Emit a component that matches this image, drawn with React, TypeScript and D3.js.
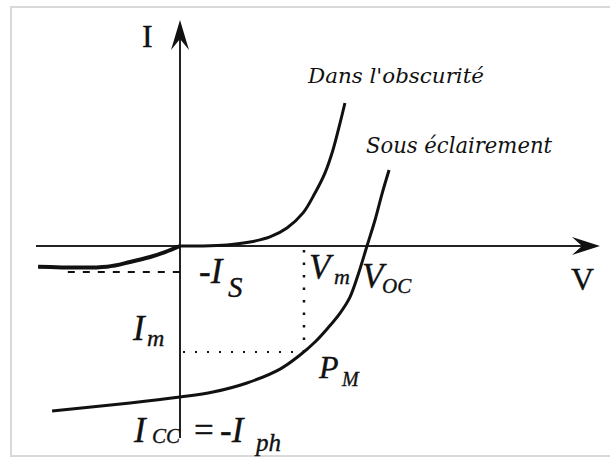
import React from "react";
import * as d3 from "d3";

// Current–voltage characteristics of a photovoltaic cell (normalised units:
// V in multiples of Voc, I in multiples of Iph).
const darkReverse: [number, number][] = [
  [-0.759, -0.137],
  [-0.39, -0.137],
  [-0.267, -0.106],
  [-0.16, -0.073],
  [-0.08, -0.04],
  [0, 0],
];
const darkForward: [number, number][] = [
  [0, 0],
  [0.123, 0.0],
  [0.251, 0.007],
  [0.374, 0.026],
  [0.481, 0.06],
  [0.572, 0.119],
  [0.658, 0.219],
  [0.722, 0.351],
  [0.775, 0.483],
  [0.818, 0.636],
  [0.856, 0.815],
  [0.882, 0.947],
];
const illuminated: [number, number][] = [
  [-0.684, -1.093],
  [-0.267, -1.04],
  [0, -1.0],
  [0.176, -0.967],
  [0.358, -0.907],
  [0.535, -0.815],
  [0.642, -0.722],
  [0.722, -0.636],
  [0.791, -0.543],
  [0.856, -0.444],
  [0.909, -0.338],
  [0.952, -0.192],
  [1.0, 0],
  [1.043, 0.172],
  [1.08, 0.344],
  [1.118, 0.503],
];

// Characteristic points
const VM = 0.663;
const IM = -0.702;
const IS = -0.172;

// Axis extents
const V_AXIS = [-0.77, 2.246];
const I_AXIS = [-1.272, 1.497];

const x = d3.scaleLinear().domain([0, 1]).range([180, 367]);
const y = d3.scaleLinear().domain([0, -1]).range([246, 397]);

const line = d3
  .line<[number, number]>()
  .x((d) => x(d[0]))
  .y((d) => y(d[1]))
  .curve(d3.curveCatmullRom.alpha(0.5));

const math = "'Liberation Serif', 'Times New Roman', serif";
const label = "'DejaVu Serif', serif";
const ink = "#111";

function T(props: {
  x: number;
  y: number;
  size: number;
  italic?: boolean;
  children: React.ReactNode;
}) {
  return (
    <text
      x={props.x}
      y={props.y}
      fontFamily={math}
      fontStyle={props.italic === false ? "normal" : "italic"}
      fontSize={props.size}
      fill={ink}
      stroke={ink}
      strokeWidth={0.35}
    >
      {props.children}
    </text>
  );
}

export default function App() {
  const x0 = x(0);
  const y0 = y(0);
  const xEnd = x(V_AXIS[1]);
  const yTop = y(I_AXIS[1]);

  // barbed arrowheads
  const hArrow = `M${xEnd},${y0} L${xEnd - 28},${y0 - 9} L${xEnd - 18},${y0} L${xEnd - 28},${y0 + 9} Z`;
  const vArrow = `M${x0},${yTop} L${x0 - 9},${yTop + 30} L${x0},${yTop + 19} L${x0 + 9},${yTop + 30} Z`;

  return (
    <div style={{ position: "absolute", left: 0, top: 0 }}>
      <svg width={610} height={460} style={{ display: "block", background: "#fff" }}>
        <rect x={11} y={7} width={610} height={449} fill="#fff" stroke="#d9d9d9" strokeWidth={2} />

        {/* axes */}
        <line x1={x(V_AXIS[0])} y1={y0} x2={xEnd - 18} y2={y0} stroke="#222" strokeWidth={2} />
        <path d={hArrow} fill="#111" />
        <line x1={x0} y1={y(I_AXIS[0])} x2={x0} y2={yTop + 19} stroke="#222" strokeWidth={2} />
        <path d={vArrow} fill="#111" />
        <T x={142} y={47} size={32} italic={false}>I</T>
        <T x={571} y={290} size={32} italic={false}>V</T>

        {/* guide lines */}
        <line x1={x(-0.6)} y1={y(IS)} x2={x0} y2={y(IS)} stroke={ink} strokeWidth={2} strokeDasharray="7 8" />
        <line x1={x(VM)} y1={y0 + 4} x2={x(VM)} y2={y(IM)} stroke={ink} strokeWidth={2.5} strokeDasharray="2.5 10" />
        <line x1={x0 + 3} y1={y(IM)} x2={x(VM) - 6} y2={y(IM)} stroke={ink} strokeWidth={2} strokeDasharray="2 10" />

        {/* curves */}
        <path d={line(darkReverse) ?? ""} fill="none" stroke={ink} strokeWidth={4} />
        <path d={line(darkForward) ?? ""} fill="none" stroke={ink} strokeWidth={3} />
        <path d={line(illuminated) ?? ""} fill="none" stroke={ink} strokeWidth={3} />

        {/* curve names */}
        <text x={308} y={83} fontFamily={label} fontStyle="italic" fontSize={21} fill={ink} textLength={176} lengthAdjust="spacingAndGlyphs">Dans l'obscurité</text>
        <text x={366} y={153} fontFamily={label} fontStyle="italic" fontSize={22} fill={ink} textLength={186} lengthAdjust="spacingAndGlyphs">Sous éclairement</text>

        {/* characteristic point labels */}
        <T x={199} y={283} size={35}>-I</T>
        <T x={228} y={297} size={29}>S</T>

        <T x={309} y={279} size={35}>V</T>
        <T x={334} y={284} size={22}>m</T>

        <T x={362} y={288} size={35}>V</T>
        <T x={382} y={293} size={21}>OC</T>

        <T x={133} y={340} size={35}>I</T>
        <T x={147} y={346} size={24}>m</T>

        <T x={319} y={378} size={32}>P</T>
        <T x={342} y={386} size={20}>M</T>

        <T x={134} y={442} size={35}>I</T>
        <T x={152} y={443} size={21}>CC</T>
        <T x={194} y={442} size={35} italic={false}>=</T>
        <T x={220} y={442} size={35}>-I</T>
        <T x={256} y={451} size={25}>ph</T>
      </svg>
    </div>
  );
}
